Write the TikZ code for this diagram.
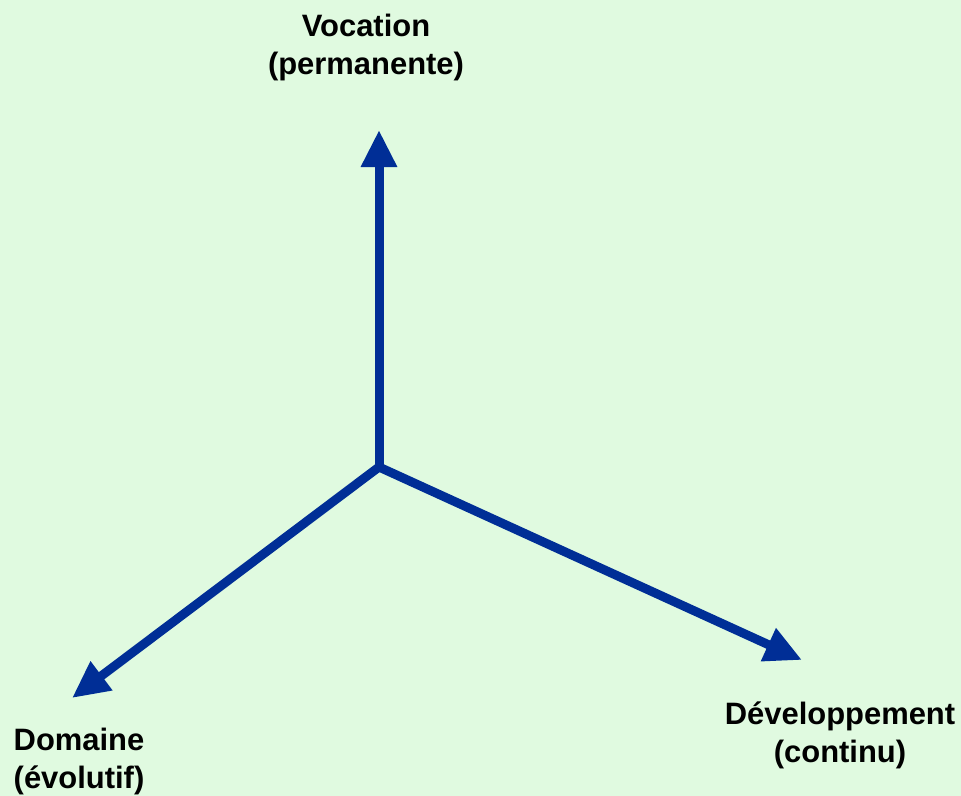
\documentclass[tikz,border=0pt]{standalone}
\usepackage{fontspec}
\setmainfont{Liberation Sans}
\usetikzlibrary{arrows.meta}
\definecolor{bgc}{RGB}{224,250,224}
\definecolor{axc}{RGB}{0,46,150}
\begin{document}
\begin{tikzpicture}[x=0.75pt,y=-0.75pt,
  axis/.style={draw=axc,line width=6.75pt,-{Triangle[length=27.75pt,width=25.5pt]}},
  lbl/.style={align=center,inner sep=0pt,font=\fontsize{23.2}{28.5}\selectfont\bfseries}]
\fill[bgc] (0,0) rectangle (961,796);
\useasboundingbox (0,0) rectangle (961,796);
\coordinate (O) at (379,467);
\coordinate (up) at (379,130);
\coordinate (rt) at (802,660);
\coordinate (lf) at (72,698);
\draw[axis] (O) -- (up);
\draw[axis] (O) -- (rt);
\draw[axis] (O) -- (lf);
\node[lbl] (voc) at (366,48) {Vocation\\(permanente)};
\node[lbl] (dev) at (840,735) {Développement\\(continu)};
\node[lbl] (dom) at (79,761) {Domaine\\(évolutif)};
\end{tikzpicture}
\end{document}
